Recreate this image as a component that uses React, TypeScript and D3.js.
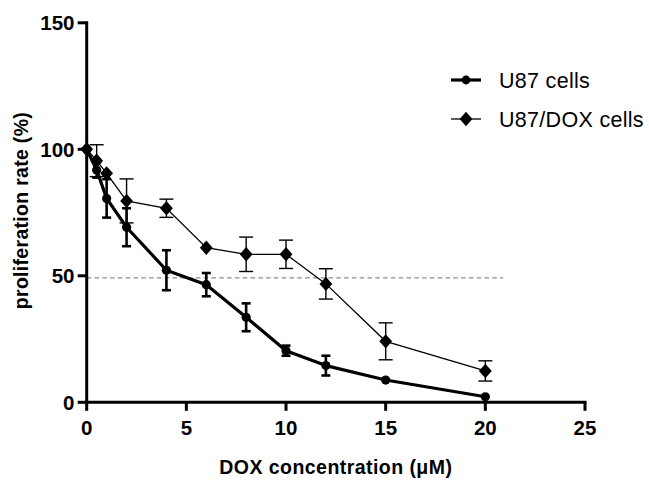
import React from "react";
import * as d3 from "d3";

const concentrations = [0, 0.5, 1, 2, 4, 6, 8, 10, 12, 15, 20];
const u87Values = [100, 91.8, 80.6, 69.2, 52.2, 46.5, 33.6, 20.4, 14.5, 8.8, 2.2];
const u87Errors = [0, 3, 7.6, 7.5, 7.9, 4.6, 5.5, 2.0, 3.9, 0, 0];
const doxValues = [100, 95.5, 90.5, 79.6, 76.7, 61.1, 58.5, 58.5, 46.8, 24.1, 12.4];
const doxErrors = [0, 6.3, 0, 8.7, 3.6, 0, 6.8, 5.6, 6.0, 7.3, 4.0];
const xTicks = [0, 5, 10, 15, 20, 25];
const yTicks = [0, 50, 100, 150];
const seriesNames = ["U87 cells", "U87/DOX cells"];
const referenceLine = { value: 49.2, from: 0, to: 20.9 };

const FONT = "'Liberation Sans', Arial, Helvetica, sans-serif";

export default function App() {
  const x = d3.scaleLinear().domain([0, 25]).range([86.7, 585]);
  const y = d3.scaleLinear().domain([0, 150]).range([402.3, 22.8]);

  const u87 = concentrations.map((c, i) => ({ c, v: u87Values[i], e: u87Errors[i] }));
  const dox = concentrations.map((c, i) => ({ c, v: doxValues[i], e: doxErrors[i] }));

  const line = d3
    .line<{ c: number; v: number }>()
    .x((d) => x(d.c))
    .y((d) => y(d.v));

  const diamond = (cx: number, cy: number) =>
    `M${cx},${cy - 7.2}L${cx + 6.4},${cy}L${cx},${cy + 7.2}L${cx - 6.4},${cy}Z`;

  const errorBar = (d: { c: number; v: number; e: number }, w: number, half: number, key: string) =>
    d.e > 0 ? (
      <g key={key}>
        <line x1={x(d.c)} x2={x(d.c)} y1={y(d.v - d.e)} y2={y(d.v + d.e)} stroke="#000" strokeWidth={w} />
        <line x1={x(d.c) - half} x2={x(d.c) + half} y1={y(d.v - d.e)} y2={y(d.v - d.e)} stroke="#000" strokeWidth={w} />
        <line x1={x(d.c) - half} x2={x(d.c) + half} y1={y(d.v + d.e)} y2={y(d.v + d.e)} stroke="#000" strokeWidth={w} />
      </g>
    ) : null;

  return (
    <svg
      width={649}
      height={480}
      style={{ position: "absolute", left: 0, top: 0, background: "#fff" }}
      fontFamily={FONT}
    >
      <rect width={649} height={480} fill="#fff" />

      {/* reference dashed line */}
      <line
        x1={x(referenceLine.from)}
        x2={x(referenceLine.to)}
        y1={y(referenceLine.value)}
        y2={y(referenceLine.value)}
        stroke="#8a8a8a"
        strokeWidth={1.3}
        strokeDasharray="4.5,3.3"
      />

      {/* U87 series */}
      <path d={line(u87) || ""} fill="none" stroke="#000" strokeWidth={3.2} strokeLinejoin="round" />
      {u87.map((d, i) => (
        <g key={"u" + i}>
          {errorBar(d, 2.6, 4.5, "ue" + i)}
          <circle cx={x(d.c)} cy={y(d.v)} r={4.6} fill="#000" />
        </g>
      ))}

      {/* U87/DOX series */}
      <path d={line(dox) || ""} fill="none" stroke="#000" strokeWidth={1.3} />
      {dox.map((d, i) => (
        <g key={"d" + i}>
          {errorBar(d, 1.4, 7, "de" + i)}
          <path d={diamond(x(d.c), y(d.v))} fill="#000" />
        </g>
      ))}

      {/* Y axis */}
      <line x1={x(0)} x2={x(0)} y1={y(150) - 1.5} y2={y(0) + 1.5} stroke="#000" strokeWidth={3} />
      {yTicks.map((t) => (
        <g key={"yt" + t}>
          <line x1={x(0) - 9} x2={x(0)} y1={y(t)} y2={y(t)} stroke="#000" strokeWidth={3} />
          <text x={74.5} y={y(t)} dy="0.36em" textAnchor="end" fontSize={20.5} fontWeight="bold">
            {t}
          </text>
        </g>
      ))}

      {/* X axis */}
      <line x1={x(0) - 1.5} x2={x(25) + 1.5} y1={y(0)} y2={y(0)} stroke="#000" strokeWidth={3} />
      {xTicks.map((t) => (
        <g key={"xt" + t}>
          <line x1={x(t)} x2={x(t)} y1={y(0)} y2={y(0) + 8.5} stroke="#000" strokeWidth={3} />
          <text x={x(t)} y={434.5} textAnchor="middle" fontSize={20.5} fontWeight="bold">
            {t}
          </text>
        </g>
      ))}

      {/* axis titles */}
      <text x={(x(0) + x(25)) / 2} y={474} textAnchor="middle" fontSize={19.5} fontWeight="bold" letterSpacing={0.45}>
        DOX concentration (μM)
      </text>
      <text
        transform={`translate(28,${(y(0) + y(150)) / 2 - 2}) rotate(-90)`}
        textAnchor="middle"
        fontSize={19.5}
        fontWeight="bold"
        letterSpacing={0.3}
      >
        proliferation rate (%)
      </text>

      {/* legend */}
      <g>
        <line x1={451} x2={481} y1={80} y2={80} stroke="#000" strokeWidth={3.2} />
        <circle cx={466} cy={80} r={4.4} fill="#000" />
        <text x={499} y={80} dy="0.36em" fontSize={21.5} letterSpacing={0.3}>
          {seriesNames[0]}
        </text>
        <line x1={451} x2={481} y1={119} y2={119} stroke="#000" strokeWidth={1.3} />
        <path d={diamond(466, 119)} fill="#000" />
        <text x={499} y={119} dy="0.36em" fontSize={21.5} letterSpacing={0.3}>
          {seriesNames[1]}
        </text>
      </g>
    </svg>
  );
}
